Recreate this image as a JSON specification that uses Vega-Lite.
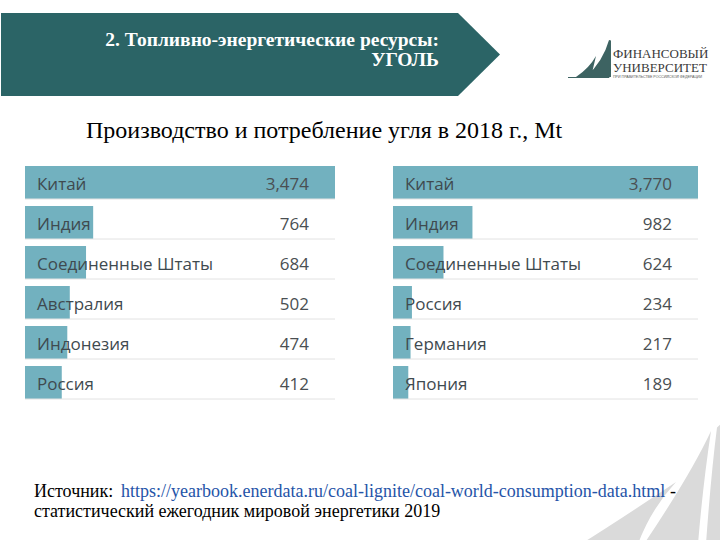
{
  "$schema": "https://vega.github.io/schema/vega-lite/v6.json",
  "padding": {"left": 0, "top": 13, "right": 0, "bottom": 0},
  "background": "white",
  "config": {"view": {"stroke": null}},
  "datasets": {
    "prod": [
      {"country": "Китай", "value": 3474},
      {"country": "Индия", "value": 764},
      {"country": "Соединенные Штаты", "value": 684},
      {"country": "Австралия", "value": 502},
      {"country": "Индонезия", "value": 474},
      {"country": "Россия", "value": 412}
    ],
    "cons": [
      {"country": "Китай", "value": 3770},
      {"country": "Индия", "value": 982},
      {"country": "Соединенные Штаты", "value": 624},
      {"country": "Россия", "value": 234},
      {"country": "Германия", "value": 217},
      {"country": "Япония", "value": 189}
    ],
    "one": [{"k": 1}],
    "none": []
  },
  "spacing": 23,
  "vconcat": [
    {
      "spacing": 68,
      "hconcat": [
        {
          "width": 499,
          "height": 83,
          "data": {"name": "one"},
          "layer": [
            {
              "mark": {
                "type": "point",
                "shape": "M-1,-0.1663L0.8317,-0.1663L1,0L0.8317,0.1663L-1,0.1663Z",
                "size": 249001,
                "filled": true,
                "fill": "#2b6466",
                "opacity": 1,
                "strokeWidth": 0
              },
              "encoding": {}
            },
            {
              "mark": {"type": "text", "text": "2. Топливно-энергетические ресурсы:", "align": "right", "baseline": "alphabetic", "x": 438, "y": 33, "font": "Liberation Serif", "fontSize": 19.5, "fontWeight": 700, "color": "#ffffff"},
              "encoding": {}
            },
            {
              "mark": {"type": "text", "text": "УГОЛЬ", "align": "right", "baseline": "alphabetic", "x": 438, "y": 53, "font": "Liberation Serif", "fontSize": 19.5, "fontWeight": 700, "color": "#ffffff"},
              "encoding": {}
            }
          ]
        },
        {
          "width": 140,
          "height": 83,
          "data": {"name": "one"},
          "layer": [
            {
              "mark": {
                "type": "point",
                "shape": "M-1,0.32L-0.41,0.32L-0.41,0.336L-1,0.336ZM-0.743,0.32Q-0.5,0.1,-0.414,-0.207L-0.386,-0.2L-0.386,0.32ZM-0.886,0.32Q-0.7,0.2,-0.6,0.021L-0.671,0.32Z",
                "size": 19600,
                "filled": true,
                "fill": "#3d6362",
                "opacity": 1,
                "strokeWidth": 0
              },
              "encoding": {}
            },
            {
              "mark": {"type": "text", "text": "ФИНАНСОВЫЙ", "align": "left", "baseline": "alphabetic", "x": 45, "y": 45, "font": "Liberation Serif", "fontSize": 13, "color": "#3a3a3a"},
              "encoding": {}
            },
            {
              "mark": {"type": "text", "text": "УНИВЕРСИТЕТ", "align": "left", "baseline": "alphabetic", "x": 45, "y": 59, "font": "Liberation Serif", "fontSize": 13, "color": "#3a3a3a"},
              "encoding": {}
            },
            {
              "mark": {"type": "text", "text": "ПРИ ПРАВИТЕЛЬСТВЕ РОССИЙСКОЙ ФЕДЕРАЦИИ", "align": "left", "baseline": "alphabetic", "x": 45, "y": 65, "font": "Liberation Sans", "fontSize": 3.6, "color": "#555555"},
              "encoding": {}
            }
          ]
        }
      ]
    },
    {
      "spacing": 22,
      "title": {
        "text": "Производство и потребление угля в 2018 г., Mt",
        "anchor": "start",
        "dx": 85,
        "offset": 23,
        "font": "Liberation Serif",
        "fontSize": 24,
        "fontWeight": "normal",
        "color": "#000000"
      },
      "hconcat": [
        {
          "width": 1,
          "height": 1,
          "data": {"name": "none"},
          "mark": {"type": "text"},
          "encoding": {}
        },
        {
          "spacing": 56,
          "hconcat": [
            {
              "width": 310,
              "height": 233,
              "data": {"name": "prod"},
              "transform": [{"joinaggregate": [{"op": "max", "field": "value", "as": "mx"}]}],
              "encoding": {
                "y": {
                  "field": "country", "type": "nominal", "sort": null,
                  "scale": {"paddingInner": 0.175, "paddingOuter": 0},
                  "axis": null
                }
              },
              "layer": [
                {
                  "mark": {"type": "bar", "color": "#72b1bf"},
                  "encoding": {"x": {"field": "value", "type": "quantitative", "scale": {"nice": false}, "axis": null}}
                },
                {
                  "mark": {"type": "rule", "color": "#e2e2e2", "strokeWidth": 1},
                  "encoding": {"y": {"field": "country", "type": "nominal", "sort": null, "bandPosition": 1}}
                },
                {
                  "mark": {"type": "text", "align": "left", "dx": 12, "dy": 2, "font": "Open Sans", "fontSize": 17, "color": "#3f4a4f"},
                  "encoding": {"x": {"datum": 0, "type": "quantitative"}, "text": {"field": "country"}}
                },
                {
                  "mark": {"type": "text", "align": "right", "dx": -26, "dy": 2, "font": "Open Sans", "fontSize": 17, "color": "#4a4f52"},
                  "encoding": {"x": {"field": "mx", "type": "quantitative"}, "text": {"field": "value", "type": "quantitative", "format": ",d"}}
                }
              ]
            },
            {
              "width": 305,
              "height": 233,
              "data": {"name": "cons"},
              "transform": [{"joinaggregate": [{"op": "max", "field": "value", "as": "mx"}]}],
              "encoding": {
                "y": {
                  "field": "country", "type": "nominal", "sort": null,
                  "scale": {"paddingInner": 0.175, "paddingOuter": 0},
                  "axis": null
                }
              },
              "layer": [
                {
                  "mark": {"type": "bar", "color": "#72b1bf"},
                  "encoding": {"x": {"field": "value", "type": "quantitative", "scale": {"nice": false}, "axis": null}}
                },
                {
                  "mark": {"type": "rule", "color": "#e2e2e2", "strokeWidth": 1},
                  "encoding": {"y": {"field": "country", "type": "nominal", "sort": null, "bandPosition": 1}}
                },
                {
                  "mark": {"type": "text", "align": "left", "dx": 12, "dy": 2, "font": "Open Sans", "fontSize": 17, "color": "#3f4a4f"},
                  "encoding": {"x": {"datum": 0, "type": "quantitative"}, "text": {"field": "country"}}
                },
                {
                  "mark": {"type": "text", "align": "right", "dx": -26, "dy": 2, "font": "Open Sans", "fontSize": 17, "color": "#4a4f52"},
                  "encoding": {"x": {"field": "mx", "type": "quantitative"}, "text": {"field": "value", "type": "quantitative", "format": ",d"}}
                }
              ]
            }
          ]
        }
      ]
    },
    {
      "width": 720,
      "height": 118,
      "data": {"name": "one"},
      "layer": [
        {
          "mark": {
            "type": "point",
            "shape": "M0.6111,0.1639Q0.7222,0.0944,0.875,-0.0083Q0.8056,0.0667,0.7694,0.1639ZM0.9722,-0.15Q0.9167,-0.0306,0.7861,0.1639L0.9361,0.1639Q0.95,-0.0028,0.9722,-0.15ZM0.9889,-0.16L1,-0.17L1,0.1639L0.9583,0.1639Q0.9722,-0.0306,0.9889,-0.16Z",
            "size": 518400,
            "filled": true,
            "fill": "#dadada",
            "opacity": 1,
            "strokeWidth": 0
          },
          "encoding": {}
        },
        {
          "mark": {"type": "text", "text": "Источник:", "align": "left", "baseline": "middle", "x": 33, "y": 66, "font": "Liberation Serif", "fontSize": 18, "color": "#000000"},
          "encoding": {}
        },
        {
          "mark": {"type": "text", "text": "https://yearbook.enerdata.ru/coal-lignite/coal-world-consumption-data.html", "align": "left", "baseline": "middle", "x": 120, "y": 66, "font": "Liberation Serif", "fontSize": 18, "color": "#2554a8"},
          "encoding": {}
        },
        {
          "mark": {"type": "rule", "x": 120, "x2": 665, "y": 74, "y2": 74, "color": "#2554a8", "strokeWidth": 1},
          "encoding": {}
        },
        {
          "mark": {"type": "text", "text": "-", "align": "left", "baseline": "middle", "x": 669, "y": 66, "font": "Liberation Serif", "fontSize": 18, "color": "#000000"},
          "encoding": {}
        },
        {
          "mark": {"type": "text", "text": "статистический ежегодник мировой энергетики 2019", "align": "left", "baseline": "middle", "x": 33, "y": 86, "font": "Liberation Serif", "fontSize": 18, "color": "#000000"},
          "encoding": {}
        }
      ]
    }
  ]
}
